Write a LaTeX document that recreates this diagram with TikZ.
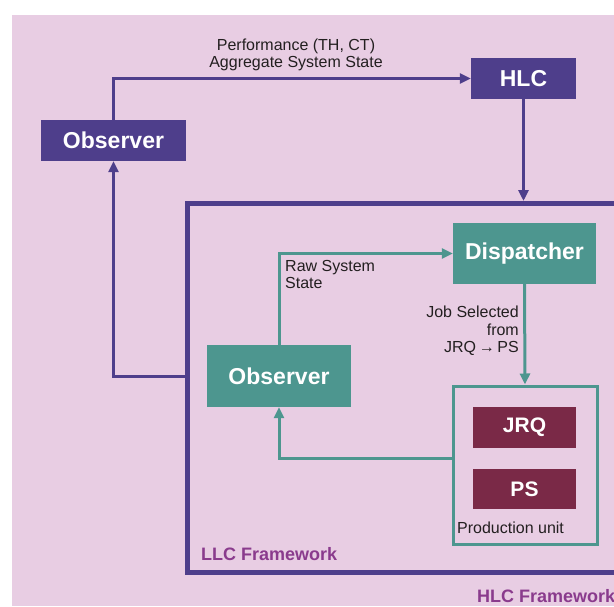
\documentclass[tikz,border=0pt]{standalone}
\usepackage{fontspec}
\setmainfont{Liberation Sans}
\usetikzlibrary{arrows.meta}

\definecolor{bgpink}{HTML}{E8CDE3}
\definecolor{hlcpurple}{HTML}{4E3E8B}
\definecolor{llcteal}{HTML}{4D968F}
\definecolor{queuered}{HTML}{7A2947}
\definecolor{framelabel}{HTML}{8A3B8D}
\definecolor{textgray}{HTML}{231F20}

\tikzset{
  hlcbox/.style={fill=hlcpurple, text=white, inner sep=0pt, minimum height=41pt,
    font=\fontsize{23}{26}\selectfont\bfseries},
  llcbox/.style={fill=llcteal, text=white, inner sep=0pt,
    font=\fontsize{23}{26}\selectfont\bfseries},
  queuebox/.style={fill=queuered, text=white, inner sep=0pt, minimum width=103pt,
    font=\fontsize{21}{24}\selectfont\bfseries},
  smalltext/.style={text=textgray, inner sep=0pt, font=\fontsize{16}{17.5}\selectfont},
  framelab/.style={text=framelabel, inner sep=0pt, font=\fontsize{18}{20}\selectfont\bfseries},
  hlcflow/.style={draw=hlcpurple, line width=3pt, -{Triangle[length=11pt,width=10pt]}},
  llcflow/.style={draw=llcteal, line width=3pt, -{Triangle[length=11pt,width=10pt]}}
}

\begin{document}
\begin{tikzpicture}[x=1pt, y=-1pt]
  % Page and background
  \useasboundingbox (0,0) rectangle (614,606);
  \fill[bgpink] (12,15) rectangle (614,606);

  % Upper level: observer and HLC
  \node[hlcbox, minimum width=145pt] (obsH) at (113.5,140.5) {Observer};
  \node[hlcbox, minimum width=105pt] (hlc) at (523.5,78.5) {HLC};
  \node[smalltext, align=center] (perf) at (296,55) {Performance (TH, CT)\\Aggregate System State};

  % LLC framework frame (runs past the right edge)
  \node[draw=hlcpurple, line width=5pt, minimum width=480pt, minimum height=369pt,
    inner sep=0pt, anchor=north west] (llc) at (185,201) {};

  % Lower level: observer, dispatcher, production unit
  \node[llcbox, minimum width=144pt, minimum height=62pt] (obsL) at (279,376) {Observer};
  \node[llcbox, minimum width=143pt, minimum height=61pt] (disp) at (524.5,253.5) {Dispatcher};
  \node[draw=llcteal, line width=3pt, minimum width=144pt, minimum height=158pt,
    inner sep=0pt] (pu) at (525,465) {};
  \node[queuebox, minimum height=41pt] (jrq) at (524.5,427.5) {JRQ};
  \node[queuebox, minimum height=40pt] (ps) at (524.5,489) {PS};

  % Labels
  \node[smalltext, align=left, anchor=north west] (raw) at (285,260) {Raw System\\State};
  \node[smalltext, align=right, anchor=east] (job) at (519,331) {Job Selected\\from\\JRQ\,→\,PS};
  \node[smalltext, anchor=west] (pulab) at (457,528) {Production unit};
  \node[framelab, anchor=west] (llclab) at (201,554) {LLC Framework};
  \node[framelab, anchor=west] (hlclab) at (477,596) {HLC Framework};

  % Upper level connectors
  \draw[hlcflow] (obsH.north) |- (hlc.west);
  \draw[hlcflow] (hlc.south) -- (hlc.south |- llc.north);
  \draw[hlcflow] (llc.west |- obsL) -| (obsH.south);

  % Lower level connectors
  \draw[llcflow] (obsL.north) |- (disp.west);
  \draw[llcflow] (disp.south) -- (pu.north);
  \draw[llcflow] ([yshift=7pt]pu.west) -| (obsL.south);
\end{tikzpicture}
\end{document}
